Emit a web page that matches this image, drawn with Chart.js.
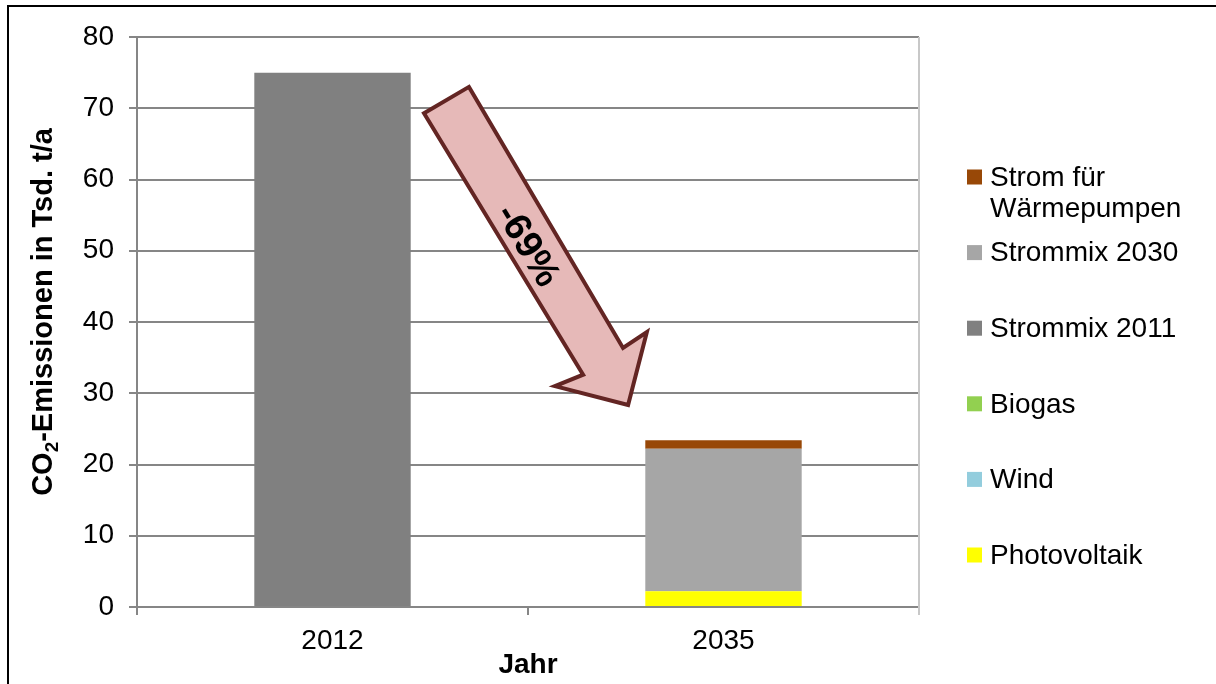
<!DOCTYPE html>
<html>
<head>
<meta charset="utf-8">
<script src="https://cdn.jsdelivr.net/npm/chart.js@4/dist/chart.umd.min.js"></script>
<style>
    html, body { margin: 0; padding: 0; background: #fff; }
    #wrap { position: relative; width: 1216px; height: 684px; }
</style>
</head>
<body>
<div id="wrap"><canvas id="chart" width="1216" height="684"></canvas></div>
<script>
const years = ["2012", "2035"];
const photovoltaik = [0, 2.2];
const wind = [0, 0];
const biogas = [0, 0];
const strommix2011 = [75, 0];
const strommix2030 = [0, 20.0];
const stromWaermepumpen = [0, 1.2];
const yTicks = [0, 10, 20, 30, 40, 50, 60, 70, 80];
const changeLabel = "-69%";

const FONT = "'Liberation Sans', Arial, sans-serif";

// arrow outline in (category index, value) space
const arrowShape = [
    [0.234, 69.3], [0.349, 73.0], [0.743, 36.35], [0.804, 38.6],
    [0.756, 28.35], [0.569, 31.0], [0.641, 32.6]
];

function mkSet(label, data, color) {
    return {
        label: label,
        data: data,
        backgroundColor: color,
        borderWidth: 0,
        barPercentage: 0.4,
        categoryPercentage: 1.0
    };
}

const decorPlugin = {
    id: "decor",
    afterDatasetsDraw(chart) {
        const ctx = chart.ctx;
        const area = chart.chartArea;
        const xs = chart.scales.x;
        const ys = chart.scales.y;
        const x0 = xs.getPixelForValue(0);
        const step = xs.getPixelForValue(1) - x0;
        const px = p => [x0 + p[0] * step, ys.getPixelForValue(p[1])];

        ctx.save();
        // right edge of plot
        ctx.strokeStyle = "#c8c8c8";
        ctx.lineWidth = 2;
        ctx.beginPath();
        ctx.moveTo(area.right, area.top);
        ctx.lineTo(area.right, area.bottom + 8);
        ctx.stroke();

        // arrow
        ctx.beginPath();
        arrowShape.forEach((p, i) => {
            const [x, y] = px(p);
            if (i === 0) ctx.moveTo(x, y); else ctx.lineTo(x, y);
        });
        ctx.closePath();
        ctx.fillStyle = "#e6b9b8";
        ctx.fill();
        ctx.strokeStyle = "#632523";
        ctx.lineWidth = 4;
        ctx.lineJoin = "miter";
        ctx.stroke();

        const a = px(arrowShape[0]), g = px(arrowShape[6]);
        const ang = Math.atan2(g[1] - a[1], g[0] - a[0]);
        const [tx, ty] = px([0.497, 50.67]);
        ctx.translate(tx, ty);
        ctx.rotate(ang);
        ctx.fillStyle = "#000";
        ctx.font = "bold 38px " + FONT;
        ctx.textAlign = "center";
        ctx.textBaseline = "middle";
        ctx.fillText(changeLabel, 0, 0);
        ctx.restore();
    },
    afterDraw(chart) {
        const ctx = chart.ctx;
        const area = chart.chartArea;
        ctx.save();

        // y axis title with subscript
        const big = "bold 29px " + FONT, small = "bold 19px " + FONT;
        const t1 = "CO", t2 = "2", t3 = "-Emissionen in Tsd. t/a";
        ctx.font = big;
        const w1 = ctx.measureText(t1).width, w3 = ctx.measureText(t3).width;
        ctx.font = small;
        const w2 = ctx.measureText(t2).width;
        const total = w1 + w2 + w3;
        ctx.translate(52, (area.top + area.bottom) / 2 - 10);
        ctx.rotate(-Math.PI / 2);
        ctx.fillStyle = "#000";
        ctx.textAlign = "left";
        ctx.textBaseline = "alphabetic";
        let x = -total / 2;
        ctx.font = big;
        ctx.fillText(t1, x, 0);
        x += w1;
        ctx.font = small;
        ctx.fillText(t2, x, 6);
        x += w2;
        ctx.font = big;
        ctx.fillText(t3, x, 0);
        ctx.setTransform(1, 0, 0, 1, 0, 0);

        // legend, reversed order
        const sets = chart.data.datasets;
        ctx.font = "28px " + FONT;
        ctx.textBaseline = "middle";
        for (let i = 0; i < sets.length; i++) {
            const ds = sets[sets.length - 1 - i];
            const y = area.top + 140 + i * 75.6;
            ctx.fillStyle = ds.backgroundColor;
            ctx.fillRect(area.right + 48, y - 7.5, 15, 15);
            ctx.fillStyle = "#000";
            const lines = Array.isArray(ds.legendText) ? ds.legendText : [ds.label];
            lines.forEach((ln, k) => ctx.fillText(ln, area.right + 71, y + 1 + k * 31));
        }

        // outer frame
        ctx.fillStyle = "#000";
        ctx.fillRect(7, 5, 1216, 2);
        ctx.fillRect(7, 5, 2, 684);
        ctx.restore();
    }
};

const datasets = [
    mkSet("Photovoltaik", photovoltaik, "#ffff00"),
    mkSet("Wind", wind, "#93cddd"),
    mkSet("Biogas", biogas, "#92d050"),
    mkSet("Strommix 2011", strommix2011, "#808080"),
    mkSet("Strommix 2030", strommix2030, "#a6a6a6"),
    mkSet("Strom für Wärmepumpen", stromWaermepumpen, "#984807")
];
datasets[5].legendText = ["Strom für", "Wärmepumpen"];

new Chart(document.getElementById("chart"), {
    type: "bar",
    data: { labels: years, datasets: datasets },
    options: {
        responsive: false,
        animation: false,
        layout: { padding: { top: 37, right: 297, bottom: 0, left: 0 } },
        plugins: { legend: { display: false }, tooltip: { enabled: false } },
        scales: {
            x: {
                stacked: true,
                grid: { offset: true, drawOnChartArea: false, tickLength: 8, color: "#868686", lineWidth: 2 },
                border: { color: "#868686", width: 2 },
                ticks: { color: "#000", font: { family: FONT, size: 28 }, padding: 9 },
                title: {
                    display: true, text: "Jahr", color: "#000",
                    font: { family: FONT, size: 28, weight: "bold" },
                    padding: { top: 0, bottom: 2 }
                },
                afterFit: s => { s.height = 77; }
            },
            y: {
                stacked: true,
                min: 0,
                max: 80,
                afterBuildTicks: s => { s.ticks = yTicks.map(v => ({ value: v })); },
                grid: { color: "#868686", lineWidth: 2, tickLength: 8 },
                border: { color: "#868686", width: 2 },
                ticks: { color: "#000", font: { family: FONT, size: 28 }, padding: 15 },
                afterFit: s => { s.width = 137; }
            }
        }
    },
    plugins: [decorPlugin]
});
</script>
</body>
</html>
